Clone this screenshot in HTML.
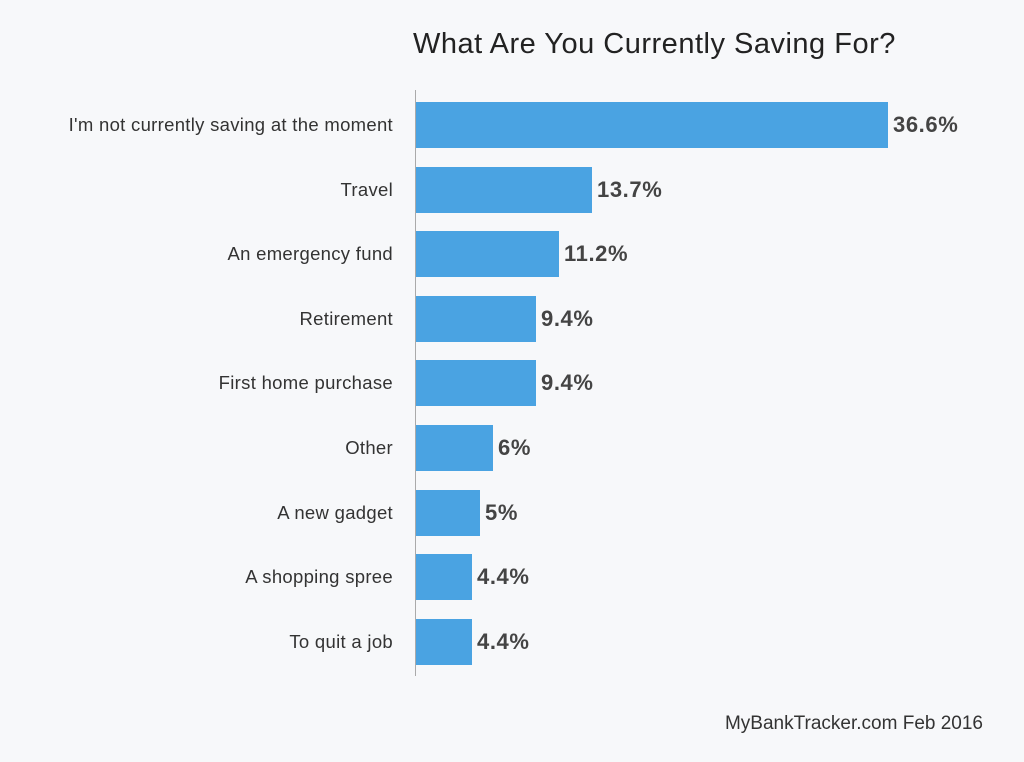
<!DOCTYPE html>
<html><head><style>
body{margin:0;width:1024px;height:762px;background:#f7f8fa;font-family:"Liberation Sans",sans-serif;position:relative;overflow:hidden}
.t{position:absolute;left:413px;top:28px;font-size:29px;letter-spacing:0.5px;color:#222;white-space:nowrap}
.ax{position:absolute;left:415px;top:90px;width:1px;height:586px;background:#aaa}
.b{position:absolute;left:416px;height:46px;background:#4aa3e2}
.l{position:absolute;right:631px;font-size:18.5px;letter-spacing:0.3px;color:#333;line-height:46px;white-space:nowrap}
.v{position:absolute;font-size:22px;letter-spacing:0.6px;font-weight:bold;color:#444;line-height:46px}
.f{position:absolute;right:41px;top:713px;font-size:19px;color:#333}
</style></head><body>
<div class="t">What Are You Currently Saving For?</div>
<div class="ax"></div>
<div class="l" style="top:102px">I'm not currently saving at the moment</div><div class="b" style="top:102px;width:472px"></div><div class="v" style="top:102px;left:893px">36.6%</div>
<div class="l" style="top:167px">Travel</div><div class="b" style="top:167px;width:176px"></div><div class="v" style="top:167px;left:597px">13.7%</div>
<div class="l" style="top:231px">An emergency fund</div><div class="b" style="top:231px;width:143px"></div><div class="v" style="top:231px;left:564px">11.2%</div>
<div class="l" style="top:296px">Retirement</div><div class="b" style="top:296px;width:120px"></div><div class="v" style="top:296px;left:541px">9.4%</div>
<div class="l" style="top:360px">First home purchase</div><div class="b" style="top:360px;width:120px"></div><div class="v" style="top:360px;left:541px">9.4%</div>
<div class="l" style="top:425px">Other</div><div class="b" style="top:425px;width:77px"></div><div class="v" style="top:425px;left:498px">6%</div>
<div class="l" style="top:490px">A new gadget</div><div class="b" style="top:490px;width:64px"></div><div class="v" style="top:490px;left:485px">5%</div>
<div class="l" style="top:554px">A shopping spree</div><div class="b" style="top:554px;width:56px"></div><div class="v" style="top:554px;left:477px">4.4%</div>
<div class="l" style="top:619px">To quit a job</div><div class="b" style="top:619px;width:56px"></div><div class="v" style="top:619px;left:477px">4.4%</div>
<div class="f">MyBankTracker.com Feb 2016</div>
</body></html>
